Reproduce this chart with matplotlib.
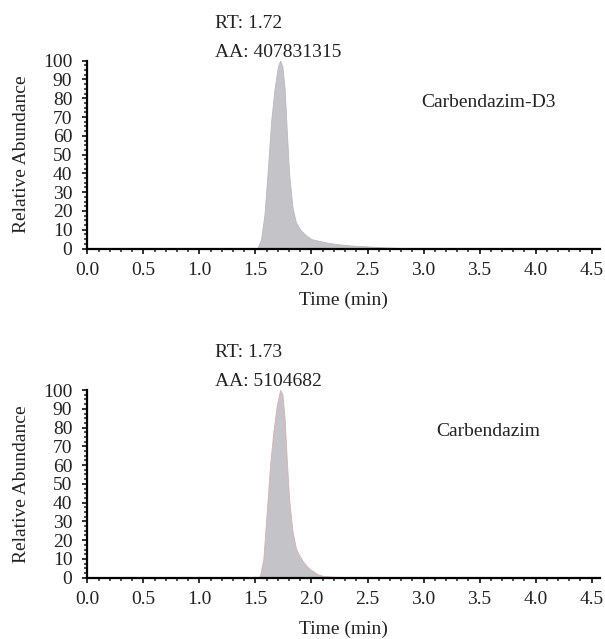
import matplotlib.pyplot as plt
from matplotlib.ticker import MultipleLocator

# Carbendazim-D3 chromatogram
time_d3 = [0.0, 1.50, 1.52, 1.55, 1.58, 1.61, 1.64, 1.67, 1.70, 1.72, 1.74, 1.76,
           1.78, 1.80, 1.83, 1.86, 1.90, 1.95, 2.00, 2.05, 2.15, 2.25, 2.35, 2.50,
           2.62, 2.80, 3.00, 4.50]
abund_d3 = [0, 0, 0.5, 5, 18, 42, 68, 85, 97, 100, 97, 85,
            62, 40, 22, 14, 10, 7, 5, 4.3, 3, 2.2, 1.6, 1.1,
            0.7, 0.3, 0.1, 0]

# Carbendazim chromatogram
time_c = [0.0, 1.52, 1.54, 1.57, 1.60, 1.63, 1.66, 1.69, 1.72, 1.74, 1.76, 1.78,
          1.80, 1.83, 1.86, 1.88, 1.92, 1.96, 2.00, 2.05, 2.10, 2.20, 2.40, 2.60, 4.50]
abund_c = [0, 0, 1, 10, 35, 60, 78, 92, 100, 98, 85, 62,
           42, 25, 16, 13, 9, 6, 4, 2, 1, 0.5, 0.2, 0, 0]

names = ["Carbendazim-D3", "Carbendazim"]
rt_labels = ["RT: 1.72", "RT: 1.73"]
aa_labels = ["AA: 407831315", "AA: 5104682"]
edge_colors = ['#b8b8c4', '#d8b0b0']

plt.rcParams['font.family'] = ['Liberation Serif', 'DejaVu Serif']
plt.rcParams['font.size'] = 14

fig = plt.figure(figsize=(6.05, 6.39), dpi=100)
ax1 = fig.add_axes([0.1446, 0.6111, 0.847, 0.2939])
ax2 = fig.add_axes([0.1446, 0.0959, 0.847, 0.2937])

panels = [(ax1, time_d3, abund_d3), (ax2, time_c, abund_c)]
for i, (ax, t, a) in enumerate(panels):
    ax.fill_between(t, a, 0, color='#c4c4c8', edgecolor=edge_colors[i], linewidth=0.6)
    ax.set_xlim(0, 4.575)
    ax.set_ylim(0, 100)
    ax.spines['top'].set_visible(False)
    ax.spines['right'].set_visible(False)
    ax.spines['left'].set_linewidth(1.6)
    ax.spines['bottom'].set_linewidth(1.6)
    ax.xaxis.set_major_locator(MultipleLocator(0.5))
    ax.xaxis.set_minor_locator(MultipleLocator(0.1))
    ax.yaxis.set_major_locator(MultipleLocator(10))
    ax.yaxis.set_minor_locator(MultipleLocator(2.5))
    ax.tick_params(which='major', direction='out', length=3.4, width=1.3, colors='#222222')
    ax.tick_params(which='minor', direction='out', length=2.0, width=1.1, colors='#222222')
    ax.tick_params(axis='x', which='major', pad=6.5, labelcolor='#222222')
    ax.tick_params(axis='y', which='major', pad=7.5, labelcolor='#222222')
    ax.set_xticks([0, 0.5, 1.0, 1.5, 2.0, 2.5, 3.0, 3.5, 4.0, 4.5])
    ax.set_xticklabels(['0.0', '0.5', '1.0', '1.5', '2.0', '2.5', '3.0', '3.5', '4.0', '4.5'])
    ax.set_xlabel("Time (min)", labelpad=9, color='#222222')
    ax.set_ylabel("Relative Abundance", labelpad=9, color='#222222')
    ax.text(1.138, 117.4, rt_labels[i], ha='left', va='baseline', clip_on=False, color='#222222')
    ax.text(1.138, 102, aa_labels[i], ha='left', va='baseline', clip_on=False, color='#222222')
    ax.text(3.58, 78, names[i], ha='center', va='center', color='#222222')

fig.savefig("out.png", dpi=100)
